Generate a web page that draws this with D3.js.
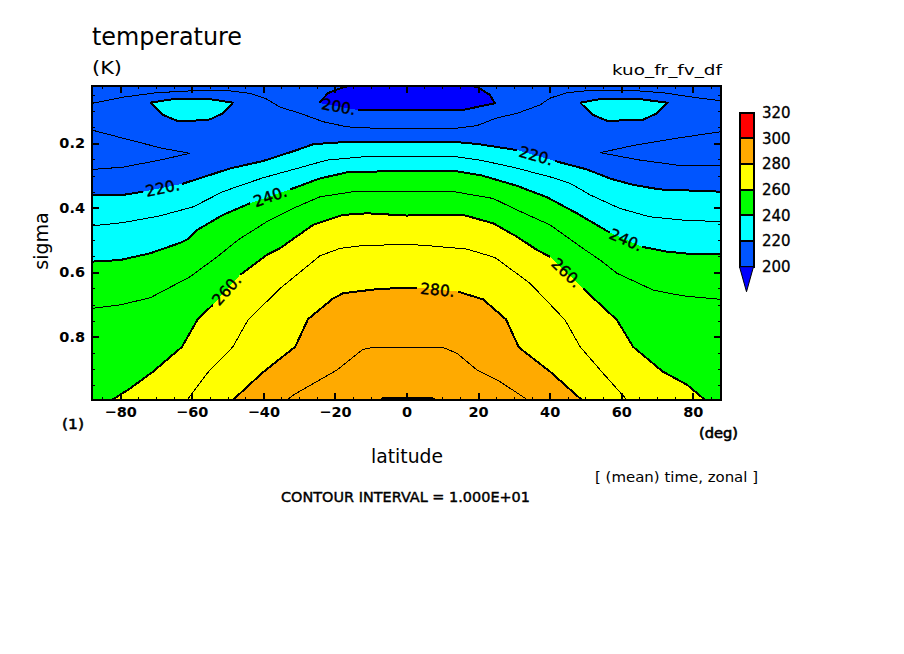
<!DOCTYPE html>
<html>
<head>
<meta charset="utf-8">
<script src="https://d3js.org/d3.v7.min.js"></script>
<style>
	body { margin: 0; background: #fff; }
	text { font-family: "DejaVu Sans", sans-serif; fill: #000; }
	.fill { stroke: none; shape-rendering: crispEdges; }
	.contour { fill: none; stroke: #000; shape-rendering: crispEdges; }
</style>
</head>
<body>
<svg id="plot" width="904" height="654"></svg>
<script>
// contour lines, as [latitude, sigma]
const C200 = [[-13.5, .097], [15.5, .097], [24.7, .076], [23.3, .050], [20.0, .026], [17.7, .021], [-15.2, .021], [-17.7, .026], [-21.9, .044], [-24.4, .075]];
const C210_TOP = [[-87.86, .076], [-79.2, .057], [-69.7, .043], [-59.6, .037], [-51.3, .035], [-43.7, .045], [-39.0, .063], [-35.3, .088], [-29.7, .107], [-23.3, .133], [-16.6, .149], [-9.4, .153], [0, .155], [14.1, .153], [19.7, .145], [25.3, .121], [30.9, .107], [37.3, .081], [40.1, .060], [44.8, .043], [50.4, .037], [61.6, .035], [71.6, .043], [80.0, .057], [87.86, .068]];
const C210_LEFT = [[-87.86, .159], [-77.2, .190], [-68.0, .216], [-60.5, .231], [-68.9, .252], [-79.2, .274], [-87.86, .281]];
const C210_RIGHT = [[87.86, .164], [75.6, .184], [63.3, .207], [54.1, .229], [65.2, .252], [77.2, .270], [87.86, .270]];
const C220_ISLE_L = [[-71.6, .074], [-65.2, .063], [-54.9, .063], [-48.5, .074], [-51.3, .107], [-54.9, .126], [-59.6, .130], [-64.1, .130], [-68.0, .112], [-71.6, .074]];
const C220_ISLE_R = [[48.5, .074], [54.1, .063], [65.2, .063], [72.8, .074], [70.0, .107], [65.8, .128], [56.0, .130], [52.1, .112], [48.5, .074]];
const C220 = [[-87.86, .360], [-79.2, .360], [-73.6, .350], [-62.7, .326], [-56.8, .305], [-49.3, .278], [-40.1, .255], [-30.6, .221], [-26.1, .203], [-20.5, .198], [-12.2, .195], [0, .195], [12.7, .195], [19.7, .202], [30.9, .221], [41.5, .255], [50.4, .281], [56.8, .309], [63.3, .329], [70.8, .343], [87.86, .350]];
const C230 = [[-87.86, .456], [-79.2, .446], [-68.9, .425], [-59.6, .397], [-51.3, .350], [-44.6, .324], [-40.1, .307], [-30.6, .278], [-22.2, .252], [-12.2, .242], [0, .242], [14.1, .242], [20.5, .252], [29.7, .274], [40.1, .304], [45.7, .324], [51.3, .360], [59.6, .402], [68.0, .428], [77.2, .438], [87.86, .443]];
const C240 = [[-87.86, .567], [-80.0, .562], [-71.6, .541], [-63.3, .509], [-61.0, .497], [-58.5, .469], [-51.3, .422], [-43.7, .386], [-32.5, .343], [-24.2, .309], [-16.6, .290], [0, .285], [13.0, .285], [21.1, .300], [30.9, .332], [39.2, .367], [47.6, .417], [56.8, .477], [65.8, .521], [72.8, .536], [79.2, .543], [87.86, .543]];
const C250 = [[-87.86, .712], [-80.0, .701], [-71.6, .679], [-60.5, .614], [-52.9, .552], [-47.1, .500], [-45.7, .490], [-39.0, .443], [-31.7, .402], [-24.2, .366], [-14.9, .350], [0, .348], [12.2, .348], [24.2, .371], [30.9, .407], [40.1, .453], [49.3, .526], [54.1, .562], [58.8, .603], [68.9, .655], [77.2, .673], [87.86, .684]];
const C260 = [[-82.3, .996], [-77.2, .960], [-70.8, .908], [-62.7, .831], [-58.2, .743], [-54.1, .701], [-46.5, .608], [-39.0, .546], [-35.3, .525], [-26.1, .453], [-17.7, .422], [-11.0, .417], [0, .424], [7.4, .422], [15.8, .422], [24.2, .448], [30.9, .490], [36.5, .531], [40.1, .552], [49.3, .650], [58.8, .748], [63.3, .831], [71.6, .908], [78.4, .949], [83.4, .996]];
const C270 = [[-61.3, .996], [-55.7, .913], [-48.5, .831], [-44.3, .748], [-35.3, .650], [-24.2, .549], [-18.6, .526], [-13.0, .518], [0, .513], [6.6, .518], [16.9, .528], [24.7, .554], [34.5, .634], [44.3, .748], [48.5, .831], [54.9, .913], [61.6, .996]];
const C280 = [[-48.5, .996], [-40.1, .910], [-31.1, .831], [-27.5, .745], [-20.5, .681], [-17.7, .665], [-8.2, .652], [0, .648], [2.9, .648], [14.4, .660], [21.4, .684], [27.8, .746], [31.4, .833], [40.1, .908], [49.0, .996]];
const C290 = [[-33.4, .996], [-31.1, .977], [-19.4, .903], [-12.2, .839], [-9.4, .833], [0, .833], [10.2, .833], [14.1, .851], [19.7, .903], [26.1, .939], [33.9, .996]];
const C300 = [[-7.4, .996], [-6.6, .991], [7.4, .991], [8.2, .996]];

const LAT_DOMAIN = [-87.86, 87.86];
const SIGMA_DOMAIN = [.0223, .996];
const LAT_MAJOR = [-80, -60, -40, -20, 0, 20, 40, 60, 80];
const LAT_MINOR = d3.range(-85, 86, 5);
const SIGMA_MAJOR = [.2, .4, .6, .8];
const SIGMA_MINOR = d3.range(.05, .96, .05);
const BAR_LEVELS = [200, 220, 240, 260, 280, 300, 320];
const BAR_COLORS = ["#0055ff", "#00ffff", "#00ff00", "#ffff00", "#ffaa00", "#ff0000"];
const BELOW_COLOR = "#0000ff";

function whenDocumentLoaded(action) {
	if (document.readyState === "loading") {
		document.addEventListener("DOMContentLoaded", action);
	} else {
		action();
	}
}

whenDocumentLoaded(() => {
	const svg = d3.select("#plot");
	const x = d3.scaleLinear().domain(LAT_DOMAIN).range([92, 721]);
	const y = d3.scaleLinear().domain(SIGMA_DOMAIN).range([86, 400]);

	svg.append("defs").append("clipPath").attr("id", "frame")
		.append("rect").attr("x", 92).attr("y", 86).attr("width", 629).attr("height", 314);

	const line = d3.line().x(d => x(d[0])).y(d => y(d[1]));
	const below = d3.area().x(d => x(d[0])).y0(400).y1(d => y(d[1]));

	const plot = svg.append("g").attr("clip-path", "url(#frame)");

	// colour bands, warmer ones painted over colder ones
	plot.append("rect").attr("class", "fill")
		.attr("x", 92).attr("y", 86).attr("width", 629).attr("height", 314)
		.attr("fill", BAR_COLORS[0]);
	plot.append("path").attr("class", "fill").attr("d", line(C200) + "Z").attr("fill", BELOW_COLOR);
	[C220_ISLE_L, C220_ISLE_R].forEach(c => {
		plot.append("path").attr("class", "fill").attr("d", line(c) + "Z").attr("fill", BAR_COLORS[1]);
	});
	[C220, C240, C260, C280, C300].forEach((c, i) => {
		plot.append("path").attr("class", "fill").attr("d", below(c)).attr("fill", BAR_COLORS[i + 1]);
	});

	// thin contours
	[C210_TOP, C210_LEFT, C210_RIGHT, C230, C250, C270, C290].forEach(c => {
		plot.append("path").attr("class", "contour").attr("stroke-width", 1).attr("d", line(c));
	});

	// thick contours, broken where a label sits: gap = segment index
	const labelled = [
		{ pts: C200, gaps: [], text: "200." },
		{ pts: C220, gaps: [2, 14], text: "220." },
		{ pts: C240, gaps: [7, 17], text: "240." },
		{ pts: C260, gaps: [5, 18], text: "260." },
		{ pts: C280, gaps: [8], text: "280." },
		{ pts: C300, gaps: [], text: "" },
		{ pts: C220_ISLE_L, gaps: [], text: "" },
		{ pts: C220_ISLE_R, gaps: [], text: "" }
	];
	labelled.forEach(c => {
		let start = 0;
		c.gaps.concat([c.pts.length - 1]).forEach(g => {
			plot.append("path").attr("class", "contour").attr("stroke-width", 2)
				.attr("d", line(c.pts.slice(start, g + 1)));
			start = g + 1;
		});
		c.gaps.forEach(g => contourLabel(c.pts[g], c.pts[g + 1], c.text));
	});
	// the 200 label closes its own loop
	contourLabel(C200[C200.length - 1], C200[0], "200.");

	function contourLabel(a, b, text) {
		const px = (x(a[0]) + x(b[0])) / 2;
		const py = (y(a[1]) + y(b[1])) / 2;
		const angle = Math.atan2(y(b[1]) - y(a[1]), x(b[0]) - x(a[0])) * 180 / Math.PI;
		svg.append("text")
			.attr("transform", `translate(${px},${py}) rotate(${angle})`)
			.attr("text-anchor", "middle").attr("dy", "0.36em")
			.attr("font-size", 15.5)
			.attr("stroke", "#000").attr("stroke-width", 0.4)
			.text(text);
	}

	// axes, ticks point inward
	const axisStyle = (g, w) => {
		g.select(".domain").remove();
		g.selectAll("line").attr("stroke", "#000").attr("stroke-width", w).attr("shape-rendering", "crispEdges");
		g.selectAll("text").attr("font-size", 14.5).attr("font-weight", "bold").style("font-family", '"DejaVu Sans", sans-serif');
	};
	const latFormat = d => d < 0 ? "\u2212" + (-d) : "" + d;
	svg.append("g").attr("transform", "translate(0,400)")
		.call(d3.axisBottom(x).tickValues(LAT_MINOR).tickSize(-3).tickFormat(""))
		.call(axisStyle, 1);
	svg.append("g").attr("transform", "translate(0,86)")
		.call(d3.axisTop(x).tickValues(LAT_MINOR).tickSize(-3).tickFormat(""))
		.call(axisStyle, 1);
	svg.append("g").attr("transform", "translate(92,0)")
		.call(d3.axisLeft(y).tickValues(SIGMA_MINOR).tickSize(-3).tickFormat(""))
		.call(axisStyle, 1);
	svg.append("g").attr("transform", "translate(721,0)")
		.call(d3.axisRight(y).tickValues(SIGMA_MINOR).tickSize(-3).tickFormat(""))
		.call(axisStyle, 1);
	svg.append("g").attr("transform", "translate(0,400)")
		.call(d3.axisBottom(x).tickValues(LAT_MAJOR).tickSize(-7).tickPadding(7).tickFormat(latFormat))
		.call(axisStyle, 2);
	svg.append("g").attr("transform", "translate(0,86)")
		.call(d3.axisTop(x).tickValues(LAT_MAJOR).tickSize(-7).tickFormat(""))
		.call(axisStyle, 2);
	svg.append("g").attr("transform", "translate(92,0)")
		.call(d3.axisLeft(y).tickValues(SIGMA_MAJOR).tickSize(-7).tickPadding(7).tickFormat(d3.format(".1f")))
		.call(axisStyle, 2);
	svg.append("g").attr("transform", "translate(721,0)")
		.call(d3.axisRight(y).tickValues(SIGMA_MAJOR).tickSize(-7).tickFormat(""))
		.call(axisStyle, 2);
	svg.append("rect")
		.attr("x", 92).attr("y", 86).attr("width", 629).attr("height", 314)
		.attr("fill", "none").attr("stroke", "#000").attr("stroke-width", 2.5)
		.attr("shape-rendering", "crispEdges");

	// colour bar
	const barY = d3.scaleLinear().domain([200, 320]).range([266.7, 112.7]);
	const bar = svg.append("g");
	BAR_COLORS.forEach((color, i) => {
		bar.append("rect")
			.attr("x", 739.5).attr("width", 14)
			.attr("y", barY(BAR_LEVELS[i + 1]))
			.attr("height", barY(BAR_LEVELS[i]) - barY(BAR_LEVELS[i + 1]))
			.attr("fill", color).attr("stroke", "#000").attr("stroke-width", 2)
			.attr("shape-rendering", "crispEdges");
	});
	bar.append("path")
		.attr("d", `M739.5,${barY(200)}L753.5,${barY(200)}L746.5,${barY(180.5)}Z`)
		.attr("fill", BELOW_COLOR).attr("stroke", "#000").attr("stroke-width", 1);
	bar.selectAll("text").data(BAR_LEVELS).enter().append("text")
		.attr("x", 762).attr("y", d => barY(d)).attr("dy", "0.36em")
		.attr("font-size", 15)
		.attr("stroke", "#000").attr("stroke-width", 0.3)
		.text(d => d);

	// titles and notes, widths pinned to the stroke font of the original
	const note = (px, py, str, size, width, heavy) => {
		const t = svg.append("text")
			.attr("x", px).attr("y", py).attr("font-size", size)
			.text(str);
		if (width) t.attr("textLength", width).attr("lengthAdjust", "spacingAndGlyphs");
		if (heavy) t.attr("stroke", "#000").attr("stroke-width", heavy);
		return t;
	};
	note(92, 45, "temperature", 24, 150);
	note(92, 74, "(K)", 18, 30);
	note(612, 75, "kuo_fr_fv_df", 14, 110);
	note(62, 429, "(1)", 13.5, 22, 0.5);
	note(699, 438, "(deg)", 13.5, 39, 0.6);
	note(371, 463, "latitude", 19, 72);
	note(595, 482, "[ (mean) time, zonal ]", 13.5, 163);
	note(281, 502, "CONTOUR INTERVAL = 1.000E+01", 13.5, 249, 0.4);
	svg.append("text")
		.attr("transform", "translate(48,241) rotate(-90)")
		.attr("text-anchor", "middle").attr("font-size", 19)
		.text("sigma");
});
</script>
</body>
</html>
